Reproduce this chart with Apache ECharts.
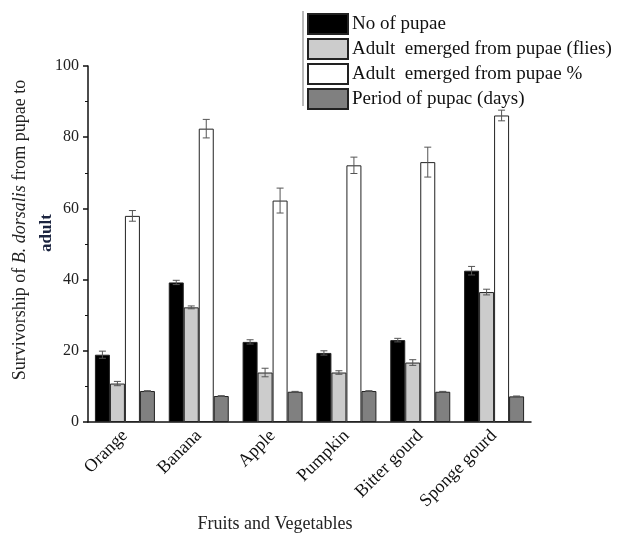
<!DOCTYPE html>
<html>
<head>
<meta charset="utf-8">
<script src="https://cdn.jsdelivr.net/npm/echarts@6/dist/echarts.min.js"></script>
<style>
  html, body { margin: 0; padding: 0; background: #fff; }
  #main { width: 617px; height: 534px; }
</style>
</head>
<body>
<div id="main"></div>
<script>
// 类别与数据
var categories = ['Orange', 'Banana', 'Apple', 'Pumpkin', 'Bitter gourd', 'Sponge gourd'];
var seriesNames = ['No of pupae', 'Adult  emerged from pupae (flies)', 'Adult  emerged from pupae %', 'Period of pupac (days)'];

var pupae = [18.9, 39.2, 22.5, 19.4, 23.0, 42.5];
var pupaeErr = [1.0, 0.6, 0.6, 0.6, 0.5, 1.2];
var flies = [10.8, 32.2, 13.9, 13.9, 16.7, 36.5];
var fliesErr = [0.6, 0.4, 1.2, 0.5, 0.8, 0.8];
var emergedPct = [57.9, 82.4, 62.2, 72.1, 73.0, 86.1];
var emergedPctErr = [1.5, 2.6, 3.5, 2.3, 4.2, 1.5];
var periodDays = [8.7, 7.3, 8.5, 8.7, 8.5, 7.2];
var periodErr = [0.1, 0.1, 0.1, 0.1, 0.1, 0.1];

var yTicks = [0, 20, 40, 60, 80, 100];

var serif = 'Liberation Serif';
var colors = ['#000000', '#cccccc', '#ffffff', '#808080'];
var values = [pupae, flies, emergedPct, periodDays];
var errors = [pupaeErr, fliesErr, emergedPctErr, periodErr];
var barW = 15;

// 误差线
function errorSeries(k) {
  var offset = (k - 1.5) * barW;
  return {
    type: 'custom',
    silent: true,
    z: 5,
    data: values[k].map(function (v, i) { return [i, v, errors[k][i]]; }),
    renderItem: function (params, api) {
      var c = api.value(0), v = api.value(1), e = api.value(2);
      var hi = api.coord([c, v + e]);
      var lo = api.coord([c, v - e]);
      var x = hi[0] + offset;
      var cap = 3.5;
      var st = { stroke: '#555', lineWidth: 1 };
      return {
        type: 'group',
        children: [
          { type: 'line', shape: { x1: x, y1: hi[1], x2: x, y2: lo[1] }, style: st },
          { type: 'line', shape: { x1: x - cap, y1: hi[1], x2: x + cap, y2: hi[1] }, style: st },
          { type: 'line', shape: { x1: x - cap, y1: lo[1], x2: x + cap, y2: lo[1] }, style: st }
        ]
      };
    }
  };
}

var series = [];
for (var k = 0; k < 4; k++) {
  series.push({
    name: seriesNames[k],
    type: 'bar',
    barWidth: barW,
    barGap: '0%',
    data: values[k],
    itemStyle: { color: colors[k], borderColor: '#222', borderWidth: 1 }
  });
}
for (var k2 = 0; k2 < 4; k2++) series.push(errorSeries(k2));

var option = {
  backgroundColor: '#fff',
  animation: false,
  grid: { left: 88, right: 86, top: 66, bottom: 112 },
  legend: {
    orient: 'vertical',
    left: 302,
    top: 8,
    itemWidth: 40,
    itemHeight: 20,
    itemGap: 3,
    icon: 'rect',
    data: seriesNames,
    textStyle: { fontFamily: serif, fontSize: 19, color: '#111', padding: [0, 0, 0, -1] }
  },
  xAxis: [{
    type: 'category',
    data: categories,
    axisLine: { lineStyle: { color: '#111', width: 1.5 } },
    axisTick: { alignWithLabel: true, length: 6, lineStyle: { color: '#111', width: 1.5 } },
    axisLabel: { rotate: 45, fontFamily: serif, fontSize: 18, color: '#111', margin: 11 }
  }, {
    type: 'category',
    data: categories,
    position: 'bottom',
    axisLine: { show: false },
    axisTick: { length: 3, lineStyle: { color: '#111', width: 1.5 } },
    axisLabel: { show: false }
  }],
  yAxis: {
    type: 'value',
    min: yTicks[0],
    max: yTicks[yTicks.length - 1],
    interval: 20,
    axisLine: { show: true, lineStyle: { color: '#111', width: 1.5 } },
    axisTick: { show: true, length: 5, lineStyle: { color: '#111', width: 1.5 } },
    minorTick: { show: true, splitNumber: 2, length: 3, lineStyle: { color: '#111' } },
    splitLine: { show: false },
    axisLabel: { fontFamily: serif, fontSize: 16, color: '#222', margin: 9 }
  },
  graphic: [
    {
      type: 'text',
      x: 11, y: 230,
      rotation: Math.PI / 2,
      style: {
        text: '{a|Survivorship of }{i|B. dorsalis}{a| from pupae to}',
        rich: {
          a: { fontFamily: serif, fontSize: 18, fill: '#222' },
          i: { fontFamily: serif, fontSize: 18, fontStyle: 'italic', fill: '#222' }
        },
        align: 'center',
        verticalAlign: 'top'
      }
    },
    {
      type: 'text',
      x: 38, y: 233,
      rotation: Math.PI / 2,
      style: {
        text: 'adult',
        fontFamily: serif, fontSize: 17, fontWeight: 'bold', fill: '#1c2540',
        align: 'center',
        verticalAlign: 'top'
      }
    },
    {
      type: 'text',
      x: 275, y: 524,
      style: {
        text: 'Fruits and Vegetables',
        fontFamily: serif, fontSize: 18, fill: '#222',
        align: 'center',
        verticalAlign: 'middle'
      }
    },
    {
      type: 'line',
      shape: { x1: 303, y1: 11, x2: 303, y2: 106 },
      style: { stroke: '#777', lineWidth: 1 }
    }
  ],
  series: series
};

var myChart = echarts.init(document.getElementById('main'));
myChart.setOption(option);
</script>
</body>
</html>
